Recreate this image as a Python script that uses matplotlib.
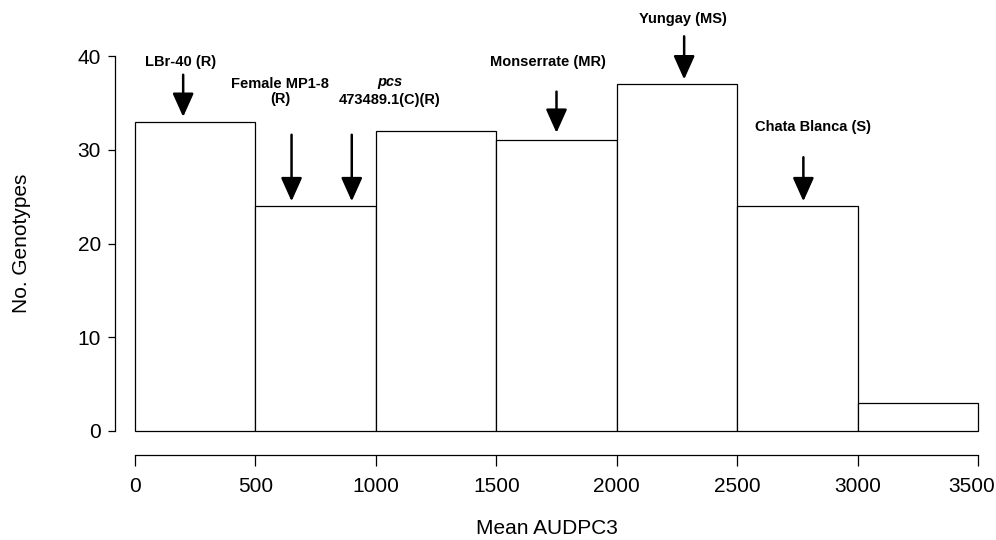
import numpy as np
import matplotlib
matplotlib.use("Agg")
import matplotlib.pyplot as plt
from matplotlib.transforms import ScaledTranslation

plt.rcParams['font.family'] = ['Liberation Sans', 'DejaVu Sans']

# histogram data
bin_edges = [0, 500, 1000, 1500, 2000, 2500, 3000, 3500]
counts = [33, 24, 32, 31, 37, 24, 3]

# cultivar markers: x position, arrow start / tip (counts), label
marker_x = [200, 650, 900, 1750, 2280, 2775]
arrow_top = [38.0, 31.6, 31.6, 36.2, 42.1, 29.2]
arrow_tip = [33.5, 24.5, 24.5, 31.8, 37.5, 24.5]
marker_labels = ["LBr-40 (R)", "Female MP1-8\n(R)", None,
                 "Monserrate (MR)", "Yungay (MS)", "Chata Blanca (S)"]
label_x = [190, 602, 1058, 1715, 2275, 2815]
label_y = [39.4, 36.2, 36.2, 39.4, 43.9, 32.4]

fig = plt.figure(figsize=(9.96, 5.4), dpi=100)
ax = fig.add_axes([115 / 996, 1 - 431 / 540, 863 / 996, 375 / 540])

widths = np.diff(bin_edges)
ax.bar(bin_edges[:-1], counts, width=widths, align='edge',
       facecolor='white', edgecolor='black', linewidth=0.9, clip_on=False)

ax.set_xlim(-83, 3500)
ax.set_ylim(0, 40)

for s in ['top', 'right']:
    ax.spines[s].set_visible(False)
ax.spines['left'].set_bounds(0, 40)
ax.spines['bottom'].set_position(('outward', 17))
ax.spines['bottom'].set_bounds(0, 3500)
for s in ['left', 'bottom']:
    ax.spines[s].set_linewidth(0.9)

ax.set_xticks(bin_edges)
ax.set_yticks([0, 10, 20, 30, 40])
ax.tick_params(axis='x', length=8, width=0.9, pad=8, labelsize=15)
ax.tick_params(axis='y', length=5, width=0.9, pad=5, labelsize=15)

ax.set_xlabel("Mean AUDPC3", fontsize=15, labelpad=17)
ax.set_ylabel("No. Genotypes", fontsize=15, labelpad=34)

# last tick label sits a little left, as in the original
last = ax.get_xticklabels()[-1]
last.set_transform(last.get_transform() + ScaledTranslation(-6 / 100, 0, fig.dpi_scale_trans))

for x, y0, y1 in zip(marker_x, arrow_top, arrow_tip):
    ax.annotate("", xy=(x, y1), xytext=(x, y0), annotation_clip=False,
                arrowprops=dict(arrowstyle='-|>,head_length=1.45,head_width=0.65',
                                mutation_scale=10, lw=1.8, color='black',
                                shrinkA=0, shrinkB=0))

for lab, x, y in zip(marker_labels, label_x, label_y):
    if lab is None:
        continue
    ax.text(x, y, lab, ha='center', va='center', fontsize=10.5,
            fontweight='bold', linespacing=1.15, clip_on=False)

# pcs label: italic first line
ax.text(label_x[2], 37.2, "pcs", ha='center', va='center', fontsize=10.5,
        fontweight='bold', fontstyle='italic', clip_on=False)
ax.text(label_x[2], 35.3, "473489.1(C)(R)", ha='center', va='center',
        fontsize=10.5, fontweight='bold', clip_on=False)

fig.savefig("out.png", dpi=100)
